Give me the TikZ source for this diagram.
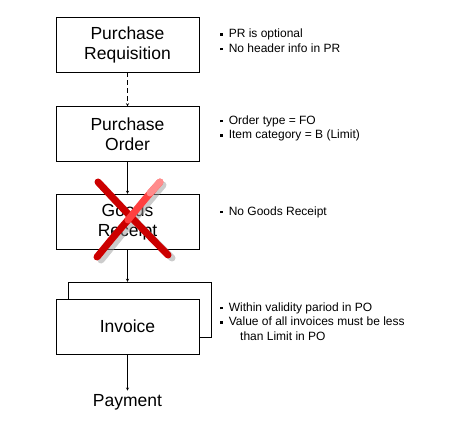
\documentclass[tikz,border=0pt]{standalone}
\usepackage{fontspec}
\setmainfont{Liberation Sans}
\usetikzlibrary{calc}
\tikzset{>=stealth}
\tikzset{
  stepbox/.style={draw,thin,fill=white,minimum width=143pt,minimum height=55pt,
    align=center,font=\fontsize{17.5}{20}\selectfont,inner sep=0pt},
  note/.style={anchor=west,align=left,font=\fontsize{12}{14.5}\selectfont,inner sep=0pt},
  flow/.style={->,thin},
  cross/.style={line width=7pt,line cap=round,red!80!black}
}
\newcommand{\blt}{\raisebox{0.3ex}{\rule{2.6pt}{2.6pt}}\hspace{6pt}}

\begin{document}
\begin{tikzpicture}[x=1pt,y=1pt]
\useasboundingbox (0,0) rectangle (457,431);
    \node[stepbox] (pr) at (127.5,386.5) {Purchase\\Requisition};
    \node[stepbox] (po) at (127.5,297) {Purchase\\Order};
    \node[stepbox] (gr) at (127.5,209.5) {Goods\\Receipt};
    \node[stepbox] (invback) at (139.5,121.5) {};
    \node[stepbox] (inv) at (127.5,104.5) {Invoice};
    \node[font=\fontsize{17.5}{20}\selectfont] (pay) at (127.5,29) {Payment};
    \draw[flow,dash pattern=on 5pt off 3pt] (pr) -- (po);
    \draw[flow] (po) -- (gr);
    \draw[flow] (gr.south) -- (gr.south|-invback.north);
    \draw[flow] (inv) -- (pay);
    % red cross over goods receipt
    \draw[cross,black!40,opacity=0.5] (101,246) .. controls (131,214) .. (172,173);
    \draw[cross,black!40,opacity=0.5] (163,246) .. controls (136,214) .. (101,171);
    \draw[cross] (98,249) .. controls (128,217) .. (168,176);
    \draw[cross] (97,174) .. controls (115,196) .. (128,211);
    \draw[cross,red!75] (128,211) .. controls (145,232) .. (160,249);
    \draw[cross,red!45] (150,238) -- (160,249);
    % notes
    \node[note] (n1) at (220,390.5) {\blt PR is optional\\\blt No header info in PR};
    \node[note] (n2) at (220,302.5) {\blt Order type = FO\\\blt Item category = B (Limit)};
    \node[note] (n3) at (220,219) {\blt No Goods Receipt};
    \node[note] (n4) at (220,109.5) {\blt Within validity pariod in PO\\\blt Value of all invoices must be less\\\hspace{20pt}than Limit in PO};
\end{tikzpicture}
\end{document}
